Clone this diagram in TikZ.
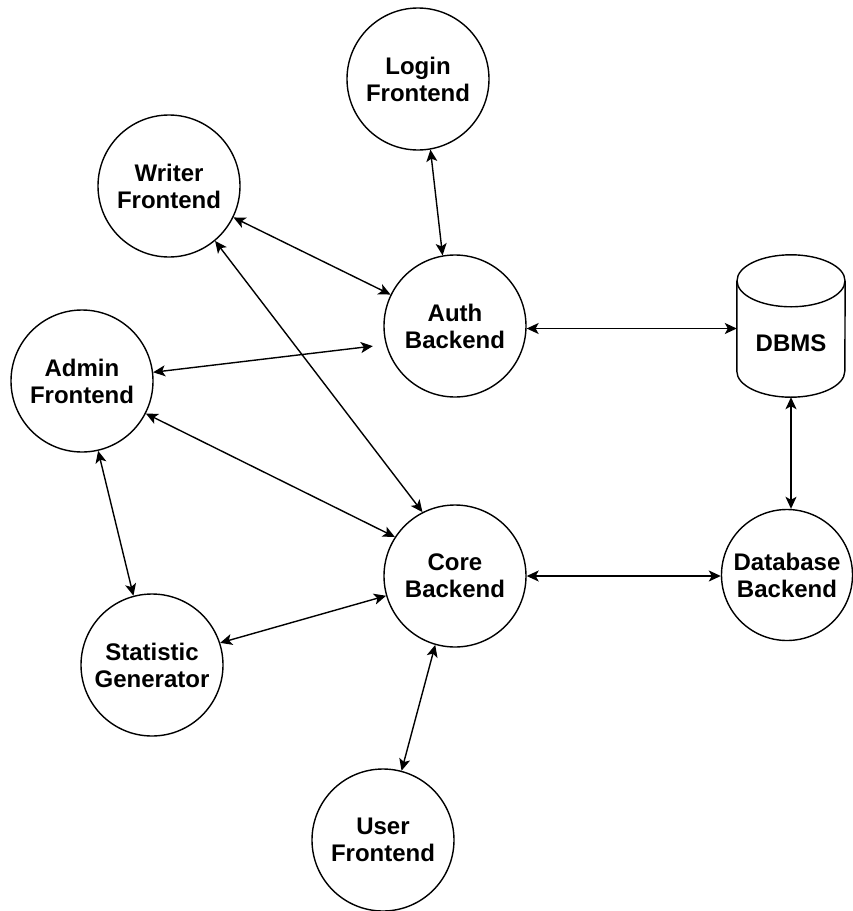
\documentclass[tikz,border=0pt]{standalone}
\usepackage{fontspec}
\setmainfont{Liberation Sans}
\usetikzlibrary{arrows.meta}
\begin{document}
\begin{tikzpicture}[x=1pt,y=-1pt,
  txt/.style={font=\fontsize{24}{27}\selectfont\bfseries, align=center},
  comp/.style={circle, draw, line width=1.4pt, minimum size=142pt, inner sep=0pt, txt},
  link/.style={{Stealth[length=12pt,width=11pt,inset=3pt]}-{Stealth[length=12pt,width=11pt,inset=3pt]}, line width=1.4pt}]
\fill[white] (0,0) rectangle (853,911);
\useasboundingbox (0,0) rectangle (853,911);

\node[comp] (login) at (418,79) {Login\\Frontend};
\node[comp] (writer) at (169,186) {Writer\\Frontend};
\node[comp] (auth) at (455,326) {Auth\\Backend};
\node[comp] (admin) at (82,381) {Admin\\Frontend};
\node[comp] (core) at (455,576) {Core\\Backend};
\node[comp, minimum size=131pt] (db) at (787,575) {Database\\Backend};
\node[comp] (stat) at (152,665) {Statistic\\Generator};
\node[comp] (user) at (383,840) {User\\Frontend};

% DBMS cylinder
\node[rectangle, minimum width=108pt, minimum height=142pt, inner sep=0pt] (dbms) at (791,326) {};
\draw[line width=1.4pt] ([yshift=-26pt]dbms.north) ellipse [x radius=54pt, y radius=26pt];
\draw[line width=1.4pt] ([yshift=-26pt]dbms.north west) -- ([yshift=26pt]dbms.south west)
  arc[start angle=180, end angle=360, x radius=54pt, y radius=26pt] -- ([yshift=-26pt]dbms.north east);
\node[txt] (dbmslabel) at ([yshift=-17pt]dbms.center) {DBMS};

% connectors
\draw[link] (login.-80) -- (auth.100);
\draw[link] (writer.-26) -- (auth.154);
\draw[link] (writer.-50) -- (core.117);
\draw[link, shorten >=13pt] (admin.7) -- (auth.195);
\draw[link] (admin.-27) -- (core.147);
\draw[link] (admin.-77) -- (stat.105);
\draw[link] (stat.18) -- (core.196);
\draw[link] (core.-106) -- (user.75);
\draw[link] (auth.-2) -- (auth.-2 -| dbms.west);
\draw[link] (core.east) -- (core.east -| db.west);
\draw[link] (dbms.south) -- (dbms.south |- db.north);
\end{tikzpicture}
\end{document}
